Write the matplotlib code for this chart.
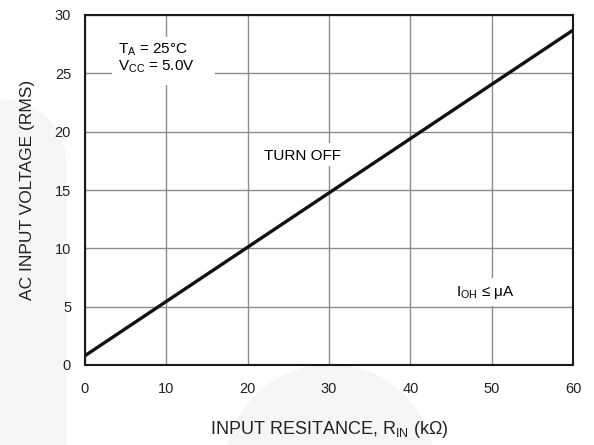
import matplotlib
matplotlib.use('Agg')
import matplotlib.pyplot as plt
from matplotlib.patches import Ellipse, Rectangle, Circle

plt.rcParams['font.family'] = ['Liberation Sans', 'DejaVu Sans']
plt.rcParams['mathtext.fontset'] = 'custom'
plt.rcParams['mathtext.rm'] = 'Liberation Sans'
plt.rcParams['mathtext.it'] = 'Liberation Sans'

# data
r_in = [0, 60]
v_ac = [0.8, 28.7]
x_ticks = [0, 10, 20, 30, 40, 50, 60]
y_ticks = [0, 5, 10, 15, 20, 25, 30]

W, H = 594, 445
fig = plt.figure(figsize=(W / 100, H / 100), dpi=100)

# faint watermark in the background (pixel coords, from bottom-left)
wm = '#f5f4f7'
fig.patches.append(Rectangle((0, 0), 65, 285, transform=None, color=wm, zorder=-5))
fig.patches.append(Ellipse((0, 285), 130, 120, transform=None, color=wm, zorder=-5))
fig.patches.append(Circle((330, -25), 105, transform=None, color=wm, zorder=-5))

ax = fig.add_axes([85 / W, 80 / H, 488 / W, 350 / H])
ax.set_zorder(2)
ax.plot(r_in, v_ac, color='#111111', lw=2.4, solid_capstyle='butt', zorder=4)

ax.set_xlim(0, 60)
ax.set_ylim(0, 30)
ax.set_xticks(x_ticks)
ax.set_yticks(y_ticks)
ax.tick_params(length=0, labelsize=10.5, colors='#222222')
ax.tick_params(axis='x', pad=12)
ax.tick_params(axis='y', pad=10)
ax.grid(True, color='#8c8c8c', lw=1.0)
ax.set_axisbelow(True)
for s in ax.spines.values():
    s.set_linewidth(1.5)
    s.set_color('#1a1a1a')
    s.set_zorder(5)

ax.set_xlabel(r'INPUT RESITANCE, R$_\mathrm{IN}$ (k$\Omega$)', fontsize=13,
              labelpad=17, color='#222222')
ax.set_ylabel('AC INPUT VOLTAGE (RMS)', fontsize=12.5, labelpad=14,
              color='#222222')

# white patches behind the notes, cutting the grid
for x0, x1, y0, y1 in [(3.3, 16.0, 24.0, 28.1), (21.3, 32.1, 17.1, 19.0),
                       (45.7, 58.4, 5.1, 7.5)]:
    ax.add_patch(Rectangle((x0, y0), x1 - x0, y1 - y0, facecolor='white',
                           edgecolor='none', zorder=2))

ax.text(4.0, 27.0, 'T$_\\mathrm{A}$ = 25°C', fontsize=11, va='center',
        ha='left', zorder=3)
ax.text(4.0, 25.6, 'V$_\\mathrm{CC}$ = 5.0V', fontsize=11, va='center',
        ha='left', zorder=3)
ax.text(26.7, 17.9, 'TURN OFF', fontsize=11, va='center', ha='center', zorder=3)
ax.text(49.2, 6.2, 'I$_\\mathrm{OH}$ ≤ μA', fontsize=11, va='center',
        ha='center', zorder=3)

fig.savefig('out.png', dpi=100)
